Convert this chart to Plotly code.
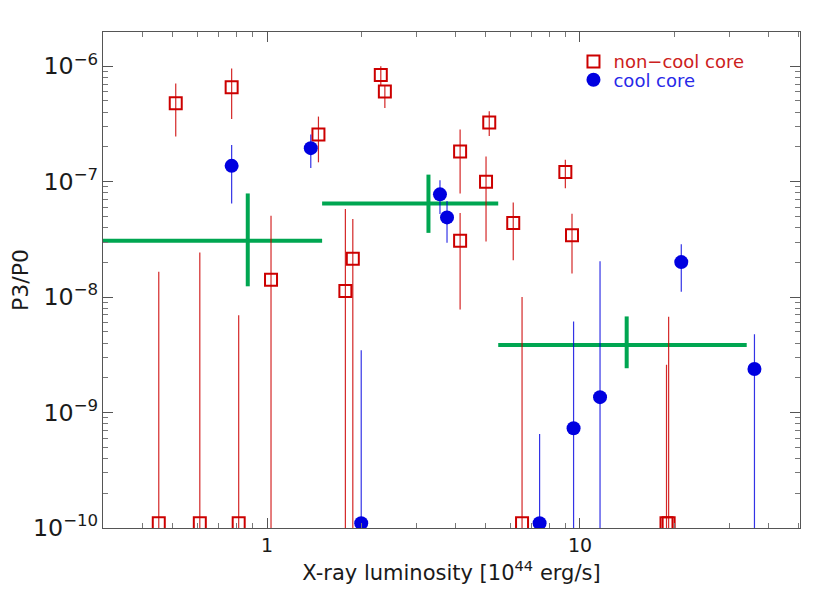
import plotly.graph_objects as go

# Non-cool core clusters (red open squares)
ncc_x = [0.511, 0.771, 2.31, 2.38, 1.46, 5.13, 4.14, 5.01, 8.98, 6.12, 4.14, 9.43,
         1.88, 1.78, 1.03, 0.451, 0.610, 0.812, 6.53, 18.9, 19.2]
ncc_y = [4.77e-7, 6.57e-7, 8.4e-7, 6.03e-7, 2.56e-7, 3.26e-7, 1.82e-7, 1.0e-7, 1.21e-7,
         4.38e-8, 3.07e-8, 3.44e-8, 2.15e-8, 1.13e-8, 1.41e-8,
         1.1e-10, 1.1e-10, 1.1e-10, 1.1e-10, 1.1e-10, 1.1e-10]
ncc_hi = [7.08e-7, 9.55e-7, 1.0e-6, 6.84e-7, 3.66e-7, 4.08e-7, 2.83e-7, 1.65e-7, 1.55e-7,
          6.6e-8, 5.35e-8, 5.27e-8, 4.74e-8, 5.8e-8, 5.06e-8,
          1.66e-8, 2.43e-8, 6.96e-9, 1.0e-8, 2.6e-9, 6.75e-9]
ncc_lo = [2.46e-7, 3.48e-7, 6.84e-7, 4.34e-7, 1.47e-7, 2.48e-7, 7.9e-8, 3.03e-8, 8.75e-8,
          2.08e-8, 7.8e-9, 1.6e-8, 1e-11, 1e-11, 1e-11,
          1e-11, 1e-11, 1e-11, 1e-11, 1e-11, 1e-11]

# Cool core clusters (blue filled circles)
cc_x = [0.771, 1.38, 3.57, 3.76, 21.07, 36.1, 11.59, 9.54, 7.43, 2.0]
cc_y = [1.37e-7, 1.95e-7, 7.76e-8, 4.9e-8, 2.01e-8, 2.38e-9, 1.36e-9, 7.3e-10, 1.1e-10, 1.1e-10]
cc_hi = [2.08e-7, 2.56e-7, 1.03e-7, 6.8e-8, 2.87e-8, 4.77e-9, 2.04e-8, 6.15e-9, 6.53e-10, 3.46e-9]
cc_lo = [6.47e-8, 1.31e-7, 5.24e-8, 2.96e-8, 1.11e-8, 1e-11, 1e-11, 1e-11, 1e-11, 1e-11]

# Binned averages (green crosses)
bin_x = [0.868, 3.28, 14.1]
bin_xlo = [0.25, 1.50, 5.48]
bin_xhi = [1.50, 5.48, 34.1]
bin_y = [3.07e-8, 6.47e-8, 3.85e-9]
bin_ylo = [1.24e-8, 3.6e-8, 2.42e-9]
bin_yhi = [7.9e-8, 1.15e-7, 6.8e-9]

RED = "#CC0000"
BLUE = "#0000E0"
GREEN = "#00A651"
FONT = "DejaVu Sans"
TXT = "#1a1a1a"

fig = go.Figure()

fig.add_trace(go.Scatter(
    x=bin_x, y=bin_y, mode="markers",
    marker=dict(size=1, color=GREEN, opacity=0),
    error_x=dict(type="data", symmetric=False,
                 array=[h - c for h, c in zip(bin_xhi, bin_x)],
                 arrayminus=[c - l for l, c in zip(bin_xlo, bin_x)],
                 color=GREEN, thickness=4, width=0),
    error_y=dict(type="data", symmetric=False,
                 array=[h - c for h, c in zip(bin_yhi, bin_y)],
                 arrayminus=[c - l for l, c in zip(bin_ylo, bin_y)],
                 color=GREEN, thickness=4, width=0),
    showlegend=False, hoverinfo="skip"))

fig.add_trace(go.Scatter(
    x=ncc_x, y=ncc_y, mode="markers", legend="legend",
    name="<span style='color:#CC2020'>non\u2212cool core</span>",
    marker=dict(symbol="square-open", size=12, color=RED, line=dict(width=2, color=RED)),
    error_y=dict(type="data", symmetric=False,
                 array=[h - c for h, c in zip(ncc_hi, ncc_y)],
                 arrayminus=[c - l for l, c in zip(ncc_lo, ncc_y)],
                 color="rgba(204,0,0,0.85)", thickness=1.2, width=0)))

fig.add_trace(go.Scatter(
    x=cc_x, y=cc_y, mode="markers", legend="legend2",
    name="<span style='color:#2828E8'>cool core</span>",
    marker=dict(symbol="circle", size=14, color=BLUE),
    error_y=dict(type="data", symmetric=False,
                 array=[h - c for h, c in zip(cc_hi, cc_y)],
                 arrayminus=[c - l for l, c in zip(cc_lo, cc_y)],
                 color="rgba(0,0,224,0.8)", thickness=1.2, width=0)))

axis_common = dict(
    type="log", showgrid=False, zeroline=False, showline=True, mirror="allticks",
    linecolor="#555555", linewidth=1, ticks="inside", tickcolor="#555555",
    ticklen=10, tickwidth=1, automargin=False,
    tickfont=dict(family=FONT, size=19, color=TXT),
    minor=dict(ticks="inside", ticklen=5, tickcolor="#777777", dtick="D1", showgrid=False),
)

fig.update_xaxes(**axis_common, range=[-0.524, 1.703], tickvals=[1, 10], ticktext=["1", "10"],
                 title=dict(text="X-ray luminosity [10<sup>44</sup> erg/s]",
                            font=dict(family=FONT, size=21, color=TXT), standoff=10))
fig.update_yaxes(**axis_common, range=[-10, -5.704], dtick=1, exponentformat="power",
                 title=dict(text="P3/P0", font=dict(family=FONT, size=22, color=TXT),
                            standoff=8))

leg_common = dict(xanchor="left", yanchor="middle", bgcolor="rgba(0,0,0,0)",
                  font=dict(family=FONT, size=18), itemwidth=30,
                  borderwidth=0)

fig.update_layout(
    width=830, height=593,
    margin=dict(l=95, r=38, t=24, b=73),
    plot_bgcolor="white", paper_bgcolor="white",
    legend=dict(x=0.675, y=0.94, **leg_common),
    legend2=dict(x=0.675, y=0.903, **leg_common),
)

fig.write_html("out.html")
